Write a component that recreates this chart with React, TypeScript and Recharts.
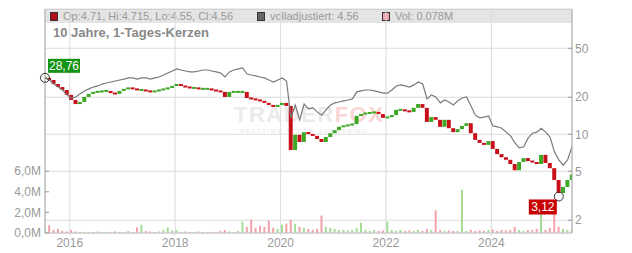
import React from "react";
import {
  ComposedChart,
  Bar,
  Line,
  XAxis,
  YAxis,
  CartesianGrid,
  ReferenceDot,
  Cell,
} from "recharts";

// monthly samples, first one mid-2015
const START = 2015.53;

const closes = [
  28.76, 27.6, 25.6, 24.2, 22.9, 20.9, 19.0, 17.6, 18.3, 20.1,
  21.3, 22.1, 22.1, 22.5, 22.5, 21.6, 21.3, 22.5, 23.4, 23.8,
  23.4, 22.9, 22.9, 22.5, 22.1, 22.5, 22.9, 23.4, 23.8, 24.7,
  25.6, 24.7, 24.2, 23.8, 23.8, 23.4, 23.4, 23.4, 22.9, 22.5,
  22.1, 20.1, 22.1, 22.1, 22.1, 22.1, 19.7, 19.4, 19.0, 18.7,
  18.0, 17.3, 16.7, 17.3, 18.0, 17.0, 7.45, 9.9, 8.65, 10.4,
  10.05, 9.7, 9.15, 8.65, 9.5, 10.2, 10.8, 11.5, 11.7, 11.9,
  12.1, 14.1, 14.6, 14.9, 14.9, 15.2, 14.6, 13.6, 13.8, 14.3,
  15.8, 15.8, 15.5, 15.2, 16.4, 17.6, 16.4, 12.6, 13.8, 13.1,
  11.5, 13.1, 11.2, 10.4, 11.0, 11.7, 12.3, 10.2, 9.0, 8.5,
  8.2, 8.8, 7.6, 6.9, 6.5, 6.2, 5.73, 5.1, 5.95, 6.4,
  6.05, 5.95, 5.73, 6.8, 5.84, 5.3, 4.25, 3.33, 3.73, 4.25,
  4.7,
];

const adjusted = [
  28.76, 27.6, 25.6, 24.2, 22.9, 20.9, 19.7, 20.1, 21.3, 22.5,
  23.4, 24.2, 24.7, 25.6, 26.1, 26.6, 27.1, 27.6, 28.1, 28.7,
  28.7, 28.1, 28.7, 28.7, 28.1, 28.7, 29.2, 30.3, 31.5, 32.7,
  34.0, 33.3, 32.7, 32.1, 32.1, 32.7, 33.3, 33.3, 32.7, 32.1,
  31.5, 29.2, 32.1, 33.3, 34.0, 34.6, 30.9, 30.3, 29.8, 29.2,
  28.7, 27.6, 26.6, 27.6, 28.7, 27.1, 13.6, 17.3, 13.1, 17.6,
  16.1, 16.4, 15.2, 14.3, 15.8, 17.3, 18.0, 18.3, 18.7, 19.0,
  19.4, 22.1, 22.5, 22.9, 22.9, 22.5, 22.1, 21.6, 21.6, 22.9,
  24.7, 25.2, 24.7, 24.2, 25.2, 26.6, 25.6, 19.4, 20.9, 20.1,
  18.0, 19.0, 18.3, 17.3, 18.7, 19.7, 20.1, 17.0, 14.3, 13.6,
  13.8, 14.1, 11.7, 11.5, 11.2, 10.4, 9.7, 8.5, 7.75, 7.9,
  9.3, 10.2, 10.4, 11.2, 10.4, 9.5, 7.2, 6.2, 5.6, 6.2,
  7.9,
];

// volume in millions
const volumes = [
  0.45, 0.75, 0.3, 0.4, 0.2, 0.15, 0.3, 0.15, 0.1, 0.12,
  0.1, 0.1, 0.15, 0.1, 0.12, 0.1, 0.15, 0.1, 0.1, 0.2,
  0.1, 0.55, 0.8, 0.2, 0.15, 0.1, 0.15, 0.3, 0.55, 0.25,
  0.3, 0.1, 0.15, 0.1, 0.12, 0.15, 0.1, 0.1, 0.12, 0.1,
  0.2, 0.3, 0.15, 0.1, 0.2, 1.1, 0.6, 1.3, 0.5, 0.7,
  0.6, 1.2, 0.5, 0.4, 0.8, 0.9, 1.3, 0.9, 0.6, 0.5,
  0.4, 0.3, 0.4, 1.7, 0.6, 0.5, 0.4, 0.3, 0.3, 0.25,
  0.3, 0.5, 1.0, 0.3, 0.2, 0.3, 0.2, 0.25, 1.1, 0.3,
  0.2, 0.3, 0.2, 0.25, 0.2, 0.3, 0.2, 0.4, 0.3, 2.2,
  0.3, 0.2, 0.25, 0.2, 0.2, 4.2, 0.2, 0.3, 0.2, 0.25,
  0.2, 0.3, 0.35, 0.2, 0.3, 0.25, 0.3, 0.6, 0.3, 0.2,
  0.3, 0.3, 0.4, 2.0, 0.3, 0.5, 2.4, 0.6, 0.4, 0.3,
  0.3,
];

const yearTicks = [2016, 2018, 2020, 2022, 2024];
const priceTicks = [2, 5, 10, 20, 50];
const volumeTicks = [0, 2, 4, 6];

const LOW_VALUE = 3.12;
const LOW_INDEX = 117;

const RED = "#c8101a";
const GREEN = "#3ea826";
const VOL_RED = "#f2a2aa";
const VOL_GREEN = "#a6dc98";
const GRID = "#dcdcdc";
const AXIS_TEXT = "#999";
const FONT = "'Liberation Sans', Arial, sans-serif";

const data = closes.map((close, i) => {
  const open = i === 0 ? close : closes[i - 1];
  return {
    t: START + i / 12,
    candle: [Math.min(open, close), Math.max(open, close)],
    up: close >= open,
    adj: adjusted[i],
    vol: volumes[i],
  };
});

const fmtComma = (v: number, d: number) => v.toFixed(d).replace(".", ",");

function CandleShape(props: any) {
  const { x, y, width, height, fill } = props;
  const h = Math.abs(height);
  const top = Math.min(y, y + height);
  const minH = 2;
  return (
    <rect
      x={x}
      y={h < minH ? top - (minH - h) / 2 : top}
      width={width}
      height={Math.max(h, minH)}
      fill={fill}
    />
  );
}

function StartMarker({ cx, cy }: any) {
  return (
    <g>
      <rect x={cx + 3} y={cy - 19} width={32} height={14} fill="#129412" />
      <text x={cx + 19} y={cy - 7.5} textAnchor="middle" fill="#fff" fontSize={12} fontFamily={FONT}>
        {fmtComma(closes[0], 2)}
      </text>
      <circle cx={cx} cy={cy} r={4.5} fill="none" stroke="#333" strokeWidth={1} />
    </g>
  );
}

function LowMarker({ cx, cy }: any) {
  return (
    <g>
      <circle cx={cx} cy={cy} r={4.5} fill="none" stroke="#333" strokeWidth={1} />
      <rect x={cx - 30} y={cy + 3} width={28} height={15} fill="#c80000" />
      <text x={cx - 16} y={cy + 15} textAnchor="middle" fill="#fff" fontSize={12} fontFamily={FONT}>
        {fmtComma(LOW_VALUE, 2)}
      </text>
    </g>
  );
}

function LegendSwatch({ color }: { color: string }) {
  return (
    <span
      style={{
        display: "inline-block",
        width: 6,
        height: 7,
        background: color,
        border: "1px solid #333",
        marginRight: 5,
        verticalAlign: "-1px",
      }}
    />
  );
}

export default function App() {
  return (
    <div
      style={{
        position: "absolute",
        left: 0,
        top: 0,
        width: 632,
        height: 253,
        background: "#fff",
        fontFamily: FONT,
        overflow: "hidden",
      }}
    >
      {/* legend band */}
      <div
        style={{
          position: "absolute",
          left: 45,
          top: 9,
          width: 527,
          height: 13,
          background: "#e4e4e4",
          borderTop: "1px solid #c8c8c8",
          fontSize: 11,
          lineHeight: "13px",
          color: AXIS_TEXT,
          whiteSpace: "nowrap",
        }}
      >
        <span style={{ position: "absolute", left: 5 }}>
          <LegendSwatch color="#b0101a" />
          Op:4.71, Hi:4.715, Lo:4.55, Cl:4.56
        </span>
        <span style={{ position: "absolute", left: 212 }}>
          <LegendSwatch color="#666" />
          volladjustiert: 4.56
        </span>
        <span style={{ position: "absolute", left: 337 }}>
          <LegendSwatch color={VOL_RED} />
          Vol: 0.078M
        </span>
      </div>
      <div
        style={{
          position: "absolute",
          left: 53,
          top: 25,
          fontSize: 13,
          fontWeight: "bold",
          color: "#888",
        }}
      >
        10 Jahre, 1-Tages-Kerzen
      </div>
      {/* watermark */}
      <div
        style={{
          position: "absolute",
          left: 234,
          top: 104,
          fontSize: 22,
          fontWeight: "bold",
          letterSpacing: 1.5,
          lineHeight: "22px",
          whiteSpace: "nowrap",
        }}
      >
        <span style={{ color: "#ebebeb" }}>TRADER</span>
        <span style={{ color: "#fad6d6" }}>FOX</span>
        <div style={{ fontSize: 6, lineHeight: "7px", letterSpacing: 1.6, color: "#ececec", marginTop: 2, marginLeft: 6 }}>
          REALTIME STOCK SCREENING
        </div>
      </div>

      <div style={{ position: "absolute", left: 0, top: 0, zIndex: 1 }}>
        <ComposedChart
          width={632}
          height={253}
          data={data}
          margin={{ top: 9, right: 0, bottom: 0, left: 0 }}
        >
          <CartesianGrid xAxisId="main" yAxisId="price" stroke={GRID} />
          <XAxis
            xAxisId="main"
            dataKey="t"
            type="number"
            domain={[START, START + 10]}
            ticks={yearTicks}
            tickFormatter={(v: number) => String(v)}
            tick={{ fontSize: 12, fill: AXIS_TEXT, fontFamily: FONT }}
            tickSize={3}
            tickLine={{ stroke: GRID }}
            axisLine={{ stroke: "#c8c8c8" }}
            height={20}
            allowDataOverflow
          />
          <XAxis
            xAxisId="vol"
            dataKey="t"
            type="number"
            domain={[START, START + 10]}
            hide
            allowDataOverflow
          />
          <YAxis
            yAxisId="vol"
            orientation="left"
            type="number"
            domain={[0, 21.75]}
            ticks={volumeTicks}
            tickFormatter={(v: number) => `${fmtComma(v, 1)}M`}
            tick={{ fontSize: 12, fill: AXIS_TEXT, fontFamily: FONT }}
            tickSize={-4}
            tickMargin={8}
            tickLine={{ stroke: "#999" }}
            axisLine={{ stroke: "#aaa" }}
            width={45}
            allowDataOverflow
          />
          <YAxis
            yAxisId="price"
            orientation="right"
            type="number"
            scale="log"
            domain={[1.575, 104.3]}
            ticks={priceTicks}
            tick={{ fontSize: 12, fill: AXIS_TEXT, fontFamily: FONT }}
            tickSize={-4}
            tickMargin={7}
            tickLine={{ stroke: "#999" }}
            axisLine={{ stroke: "#aaa" }}
            width={60}
            allowDataOverflow
          />
          <Bar
            xAxisId="vol"
            yAxisId="vol"
            dataKey="vol"
            barSize={2}
            isAnimationActive={false}
          >
            {data.map((d, i) => (
              <Cell key={i} fill={d.up ? VOL_GREEN : VOL_RED} />
            ))}
          </Bar>
          <Line
            xAxisId="main"
            yAxisId="price"
            dataKey="adj"
            type="linear"
            stroke="#7a7a7a"
            strokeWidth={1.2}
            dot={false}
            isAnimationActive={false}
          />
          <Bar
            xAxisId="main"
            yAxisId="price"
            dataKey="candle"
            barSize={5}
            shape={CandleShape}
            isAnimationActive={false}
          >
            {data.map((d, i) => (
              <Cell key={i} fill={d.up ? GREEN : RED} />
            ))}
          </Bar>
          <ReferenceDot
            xAxisId="main"
            yAxisId="price"
            x={START}
            y={closes[0]}
            ifOverflow="visible"
            shape={StartMarker}
          />
          <ReferenceDot
            xAxisId="main"
            yAxisId="price"
            x={START + LOW_INDEX / 12}
            y={LOW_VALUE}
            ifOverflow="visible"
            shape={LowMarker}
          />
        </ComposedChart>
      </div>
    </div>
  );
}
